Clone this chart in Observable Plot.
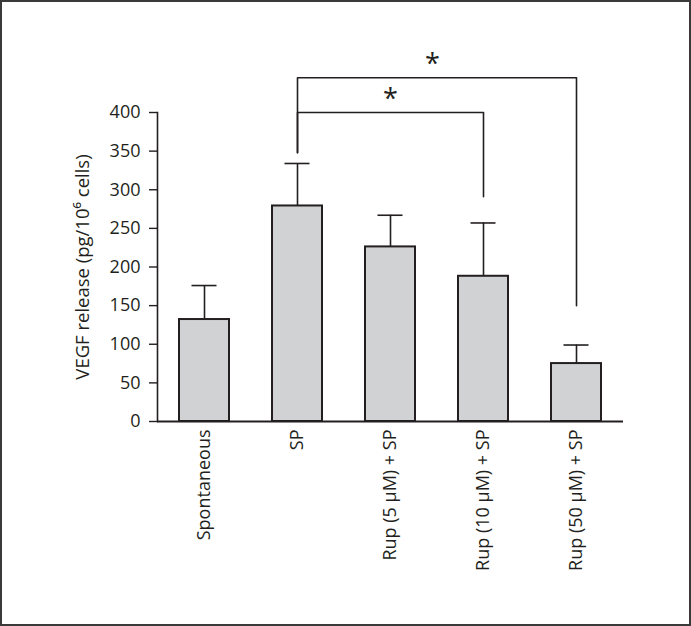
<!DOCTYPE html>
<html>
<head>
<meta charset="utf-8">
<script src="https://cdn.jsdelivr.net/npm/d3@7"></script>
<script src="https://cdn.jsdelivr.net/npm/@observablehq/plot@0.6"></script>
<style>
  html, body { margin: 0; padding: 0; background: #fff; }
  #wrap { position: relative; width: 691px; height: 626px; }
  #border { position: absolute; left: 0; top: 0; width: 691px; height: 626px; box-sizing: border-box; border: 2px solid #3a3a3a; pointer-events: none; }
  svg { display: block; }
</style>
</head>
<body>
<div id="wrap"><div id="border"></div></div>
<script>
const categories = ["Spontaneous", "SP", "Rup (5 µM) + SP", "Rup (10 µM) + SP", "Rup (50 µM) + SP"];
const means = [132, 279, 226, 188, 75];
const sems = [44, 55, 41, 69, 24];
const yTicks = [0, 50, 100, 150, 200, 250, 300, 350, 400];
const yLabel = "VEGF release (pg/10⁶ cells)";

// significance brackets: path points (category, value)
const bracketInner = [
  {x: "SP", y: 348}, {x: "SP", y: 400},
  {x: "Rup (10 µM) + SP", y: 400}, {x: "Rup (10 µM) + SP", y: 291}
];
const bracketOuter = [
  {x: "SP", y: 348}, {x: "SP", y: 445},
  {x: "Rup (50 µM) + SP", y: 445}, {x: "Rup (50 µM) + SP", y: 150}
];
const stars = [
  {x: "Rup (5 µM) + SP", y: 421, label: "*", shift: 0},
  {x: "Rup (5 µM) + SP", y: 466, label: "*", shift: 42}
];

const data = categories.map((c, i) => ({cat: c, mean: means[i], hi: means[i] + sems[i]}));
const ink = "#231f20";
const font = "'Open Sans', sans-serif";

const chart = Plot.plot({
  width: 691,
  height: 626,
  marginLeft: 157,
  marginRight: 68,
  marginTop: 112,
  marginBottom: 205,
  style: {fontFamily: font, fontSize: "18px", color: ink, background: "transparent"},
  x: {domain: categories, paddingInner: 0.46, paddingOuter: 0.23, align: 0.5},
  y: {domain: [0, 400]},
  marks: [
    Plot.ruleX(data, {x: "cat", y1: "mean", y2: "hi", stroke: ink, strokeWidth: 1.6}),
    Plot.tickY(data, {x: "cat", y: "hi", stroke: ink, strokeWidth: 1.6, insetLeft: 12.5, insetRight: 12.5}),
    Plot.barY(data, {x: "cat", y: "mean", fill: "#d1d2d4", stroke: ink, strokeWidth: 2}),
    Plot.line(bracketInner, {x: "x", y: "y", stroke: ink, strokeWidth: 1.6, clip: false}),
    Plot.line(bracketOuter, {x: "x", y: "y", stroke: ink, strokeWidth: 1.6, clip: false}),
    Plot.frame({anchor: "left", stroke: ink, strokeWidth: 1.6}),
    Plot.ruleY([0], {stroke: ink, strokeWidth: 2}),
    Plot.axisY({ticks: yTicks, tickSize: 8, tickPadding: 9, label: null, fontSize: 18, stroke: ink, strokeWidth: 1.4, tickFormat: d => String(d)}),
    Plot.axisX({tickSize: 0, tickRotate: -90, tickPadding: 8, label: null, fontSize: 18}),
    Plot.text([yLabel], {frameAnchor: "left", textAnchor: "middle", lineAnchor: "middle", dx: -74, rotate: -90, fontSize: 18.5, fill: ink}),
    ...stars.map(s => Plot.text([s], {x: "x", y: "y", text: "label", dx: s.shift, dy: 3, fontSize: 27, fill: ink, lineAnchor: "middle"}))
  ]
});
document.getElementById("wrap").prepend(chart);
</script>
</body>
</html>
